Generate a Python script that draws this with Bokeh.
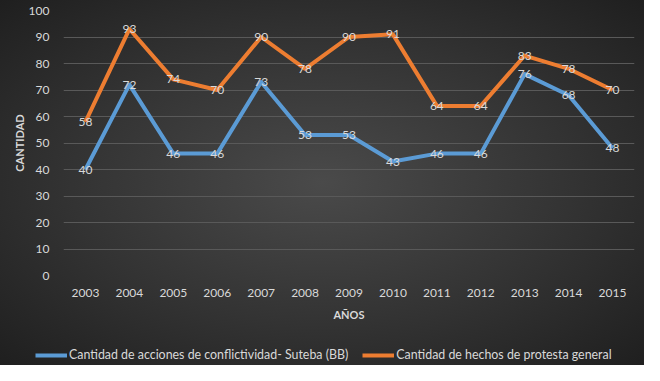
from bokeh.plotting import figure
from bokeh.models import ColumnDataSource, Legend, LegendItem, Range1d
from bokeh.layouts import column
from bokeh.core.properties import value
from bokeh.embed import file_html
from bokeh.resources import INLINE

years = ["2003", "2004", "2005", "2006", "2007", "2008", "2009", "2010", "2011", "2012", "2013", "2014", "2015"]
suteba = [40, 72, 46, 46, 73, 53, 53, 43, 46, 46, 76, 68, 48]
protesta = [58, 93, 74, 70, 90, 78, 90, 91, 64, 64, 83, 78, 70]
series_names = ["Cantidad de acciones de conflictividad- Suteba (BB)", "Cantidad de hechos de protesta general"]

FONT = "Lato"
TXT = "#d9d9d9"
BLUE = "#5b9bd5"
ORANGE = "#ed7d31"

p = figure(x_range=years, y_range=Range1d(0, 100), width=644, height=340,
           output_backend="svg", toolbar_location=None,
           min_border_left=63, min_border_right=10, min_border_top=10, min_border_bottom=65)
p.background_fill_alpha = 0
p.border_fill_alpha = 0
p.outline_line_color = None

src = ColumnDataSource(dict(x=years, a=suteba, b=protesta,
                            la=[str(v) for v in suteba], lb=[str(v) for v in protesta]))

p.line("x", "a", source=src, line_color=BLUE, line_width=4, line_join="round")
p.line("x", "b", source=src, line_color=ORANGE, line_width=4, line_join="round")

for col, lab in (("a", "la"), ("b", "lb")):
    p.text("x", col, text=lab, source=src, text_color=TXT, text_font=value(FONT),
           text_font_size="12px", text_align="center", text_baseline="middle")

p.xgrid.grid_line_color = None
p.ygrid.grid_line_color = "#595959"
p.ygrid.grid_line_width = 1
p.yaxis.ticker = list(range(0, 101, 10))

for ax in (p.xaxis[0], p.yaxis[0]):
    ax.axis_line_color = None
    ax.major_tick_line_color = None
    ax.minor_tick_line_color = None
    ax.major_label_text_color = TXT
    ax.major_label_text_font = FONT
    ax.major_label_text_font_size = "12px"
    ax.axis_label_text_color = TXT
    ax.axis_label_text_font = FONT
    ax.axis_label_text_font_size = "11px"
    ax.axis_label_text_font_style = "bold"

p.xaxis.axis_label = "AÑOS"
p.yaxis.axis_label = "CANTIDAD"
p.xaxis.major_label_standoff = 7
p.yaxis.major_label_standoff = 8
p.xaxis.axis_label_standoff = 8
p.yaxis.axis_label_standoff = 0

# legend strip
lf = figure(width=644, height=25, output_backend="svg", toolbar_location=None,
            x_range=Range1d(0, 1), y_range=Range1d(0, 1),
            x_axis_location=None, y_axis_location=None,
            min_border_left=0, min_border_right=0, min_border_top=0, min_border_bottom=0)
lf.frame_align = False
lf.background_fill_alpha = 0
lf.border_fill_alpha = 0
lf.outline_line_color = None
lf.grid.grid_line_color = None
g1 = lf.line(x=[5, 6], y=[5, 6], line_color=BLUE, line_width=4)
g2 = lf.line(x=[5, 6], y=[5, 6], line_color=ORANGE, line_width=4)

legend = Legend(items=[LegendItem(label=series_names[0], renderers=[g1]),
                       LegendItem(label=series_names[1], renderers=[g2])],
                orientation="horizontal", location=(35, 3),
                label_text_color=TXT, label_text_font=FONT, label_text_font_size="12.4px",
                background_fill_alpha=0, border_line_color=None,
                glyph_width=32, glyph_height=12, spacing=14, margin=0, padding=4, label_standoff=2)
lf.add_layout(legend)

layout = column(p, lf, spacing=0,
                styles={"background": "radial-gradient(ellipse at 50% 50%, #4a4a4a 0%, #333333 55%, #1f1f1f 100%)"})

open("out.html", "w").write(file_html(layout, INLINE))
